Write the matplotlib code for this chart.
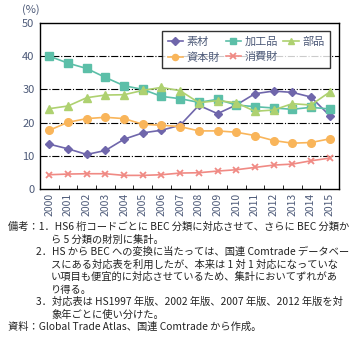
import matplotlib.pyplot as plt

plt.rcParams['font.family'] = ['Noto Sans CJK JP', 'DejaVu Sans']

# データ（%）
years = [str(y) for y in range(2000, 2016)]
sozai = [13.5, 12.1, 10.4, 11.6, 15.0, 16.9, 17.7, 19.2, 25.2, 22.7, 25.3, 28.7, 29.5, 29.1, 27.7, 22.1]
kakouhin = [40.0, 37.9, 36.3, 33.6, 31.1, 30.0, 27.9, 27.2, 26.1, 27.0, 25.3, 24.8, 24.4, 24.0, 24.6, 24.1]
buhin = [24.2, 25.0, 27.5, 28.3, 28.4, 29.7, 30.6, 29.6, 26.0, 26.6, 26.0, 23.4, 23.8, 25.7, 25.3, 29.2]
shihonzai = [17.7, 20.1, 21.2, 21.6, 21.2, 19.5, 19.2, 18.8, 17.5, 17.5, 17.1, 16.1, 14.6, 13.8, 14.0, 15.1]
shouhizai = [4.3, 4.5, 4.6, 4.6, 4.1, 4.1, 4.3, 4.8, 4.9, 5.4, 5.8, 6.5, 7.2, 7.5, 8.5, 9.3]

label_color = '#4d5a78'

fig = plt.figure(figsize=(3.58, 3.41), dpi=100)
ax = fig.add_axes([40 / 358, 1 - 189 / 341, 299 / 358, 166 / 341])

x = range(len(years))
l1, = ax.plot(x, sozai, color='#6f66ab', marker='D', markersize=4.5, lw=1.2, label='素材')
l2, = ax.plot(x, kakouhin, color='#5cbfa8', marker='s', markersize=6, lw=1.2, label='加工品')
l3, = ax.plot(x, buhin, color='#aed170', marker='^', markersize=5.5, lw=1.2, label='部品')
l4, = ax.plot(x, shihonzai, color='#f9b55a', marker='o', markersize=5.5, lw=1.2, label='資本財')
l5, = ax.plot(x, shouhizai, color='#f08a84', marker='x', markersize=5, mew=1.3, lw=1.2, label='消費財')

for v in [10, 20, 30, 40]:
    ax.axhline(v, color='black', lw=0.8, ls='-.', zorder=0)

ax.set_xlim(-0.5, len(years) - 0.5)
ax.set_ylim(0, 50)
ax.set_yticks([0, 10, 20, 30, 40, 50])
ax.set_xticks(x)
ax.set_xticklabels(years, rotation=90)
ax.set_xticks([i + 0.5 for i in range(len(years) - 1)], minor=True)
ax.tick_params(axis='x', which='major', length=0, labelsize=7.5, labelcolor=label_color, pad=3)
ax.tick_params(axis='x', which='minor', direction='in', length=3)
ax.tick_params(axis='y', length=0, labelsize=8, labelcolor=label_color, pad=4)
for s in ax.spines.values():
    s.set_linewidth(1.0)

fig.text(31 / 358, 1 - 10 / 341, '(%)', fontsize=8, color=label_color, ha='center', va='center')

# 凡例：1行目 素材・加工品・部品、2行目 資本財・消費財
leg = ax.legend([l1, l4, l2, l5, l3], ['素材', '資本財', '加工品', '消費財', '部品'],
                ncol=3, loc='upper right', bbox_to_anchor=(0.97, 0.952), fontsize=8,
                frameon=True, fancybox=False, edgecolor='black', handlelength=1.4,
                handletextpad=0.3, columnspacing=0.5, labelspacing=0.5, borderpad=0.5,
                borderaxespad=0, markerscale=0.8)
leg.get_frame().set_linewidth(1.0)
for t in leg.get_texts():
    t.set_color(label_color)

notes = [
    (8, '備考：1．HS6 桁コードごとに BEC 分類に対応させて、さらに BEC 分類か'),
    (51, 'ら 5 分類の財別に集計。'),
    (36, '2．HS から BEC への変換に当たっては、国連 Comtrade データベー'),
    (51, 'スにある対応表を利用したが、本来は 1 対 1 対応になっていな'),
    (51, 'い項目も便宜的に対応させているため、集計においてずれがあ'),
    (51, 'り得る。'),
    (36, '3．対応表は HS1997 年版、2002 年版、2007 年版、2012 年版を対'),
    (51, '象年ごとに使い分けた。'),
    (8, '資料：Global Trade Atlas、国連 Comtrade から作成。'),
]
for i, (nx, s) in enumerate(notes):
    ny = 227 + i * 12.5
    fig.text(nx / 358, 1 - ny / 341, s, fontsize=7.4, color='#222222', va='center', ha='left')

fig.savefig('out.png', dpi=100)
